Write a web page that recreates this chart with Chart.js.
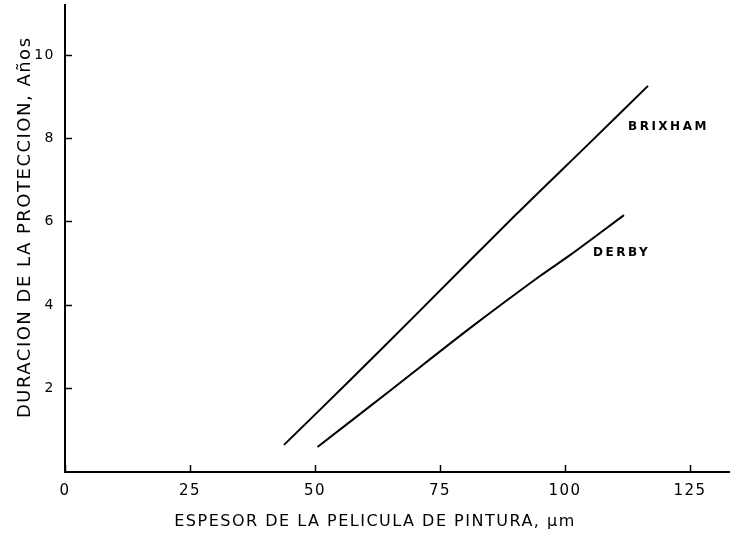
<!DOCTYPE html>
<html>
<head>
<meta charset="utf-8">
<script src="https://cdn.jsdelivr.net/npm/chart.js@4/dist/chart.umd.min.js"></script>
<style>
  html, body { margin: 0; padding: 0; background: #fff; }
  #wrap { width: 730px; height: 536px; }
</style>
</head>
<body>
<div id="wrap"><canvas id="graphique"></canvas></div>
<script>
// valeurs
var espesorBrixham = [43.8, 57, 70, 90, 105, 116.6];
var duracionBrixham = [0.65, 2.2, 3.75, 6.15, 7.9, 9.26];
var espesorDerby = [50.5, 65, 81, 95, 101, 111.8];
var duracionDerby = [0.6, 1.95, 3.45, 4.7, 5.2, 6.16];
var ticksX = [0, 25, 50, 75, 100, 125];
var ticksY = [2, 4, 6, 8, 10];
var etiquetas = [
  { texto: 'BRIXHAM', x: 112.6, y: 8.27 },
  { texto: 'DERBY', x: 105.6, y: 5.25 }
];
var titreX = 'ESPESOR DE LA PELICULA DE PINTURA, μm';
var titreY = 'DURACION DE LA PROTECCION, Años';

function points(xs, ys) {
  return xs.map(function(x, i) { return { x: x, y: ys[i] }; });
}

// espacement des lettres comme sur le scan, titres et noms des courbes
var marquesPlugin = {
  id: 'marques',
  beforeDraw: function(chart) {
    chart.ctx.letterSpacing = '1.5px';
  },
  afterDraw: function(chart) {
    var ctx = chart.ctx;
    var sx = chart.scales.x, sy = chart.scales.y;
    ctx.save();
    ctx.fillStyle = '#000';
    ctx.textBaseline = 'middle';

    // titres des axes
    ctx.letterSpacing = '1.5px';
    ctx.font = '16px "DejaVu Sans"';
    ctx.textAlign = 'center';
    ctx.fillText(titreX, sx.getPixelForValue(62), 522);
    ctx.save();
    ctx.font = '18px "DejaVu Sans"';
    ctx.translate(25, sy.getPixelForValue(5.87));
    ctx.rotate(-Math.PI / 2);
    ctx.fillText(titreY, 0, 0);
    ctx.restore();

    // noms des courbes
    ctx.textAlign = 'left';
    ctx.letterSpacing = '2.5px';
    ctx.font = 'bold 12px "DejaVu Sans"';
    etiquetas.forEach(function(e) {
      ctx.fillText(e.texto, sx.getPixelForValue(e.x), sy.getPixelForValue(e.y));
    });
    ctx.restore();
    ctx.letterSpacing = '0px';
  }
};

// graduations tournées vers l'intérieur (tickLength négatif)
var grille = {
  display: true,
  drawOnChartArea: false,
  drawTicks: true,
  tickLength: -7,
  tickWidth: 1.5,
  tickColor: '#000'
};

document.addEventListener('DOMContentLoaded', function() {
  var ctx = document.getElementById('graphique').getContext('2d');
  var chart = new Chart(ctx, {
    type: 'scatter',
    data: {
      datasets: [{
        label: 'BRIXHAM',
        data: points(espesorBrixham, duracionBrixham),
        showLine: true,
        borderColor: '#000',
        borderWidth: 2,
        pointRadius: 0,
        tension: 0.3
      }, {
        label: 'DERBY',
        data: points(espesorDerby, duracionDerby),
        showLine: true,
        borderColor: '#000',
        borderWidth: 2,
        pointRadius: 0,
        tension: 0.3
      }]
    },
    plugins: [marquesPlugin],
    options: {
      responsive: true,
      maintainAspectRatio: false,
      animation: false,
      layout: { padding: { top: 5, right: 0, left: 0, bottom: 0 } },
      plugins: {
        legend: { display: false },
        tooltip: { enabled: false }
      },
      scales: {
        x: {
          type: 'linear',
          min: 0,
          max: 133,
          afterBuildTicks: function(scale) {
            scale.ticks = ticksX.map(function(v) { return { value: v }; });
          },
          afterFit: function(scale) {
            scale.height = 64;
            scale.paddingLeft = 0;
            scale.paddingRight = 0;
          },
          grid: grille,
          border: { color: '#000', width: 2 },
          ticks: {
            color: '#000',
            padding: 17,
            maxRotation: 0,
            font: { family: 'DejaVu Sans', size: 15 }
          }
        },
        y: {
          type: 'linear',
          min: 0,
          max: 11.2,
          afterBuildTicks: function(scale) {
            scale.ticks = ticksY.map(function(v) { return { value: v }; });
          },
          afterFit: function(scale) {
            scale.width = 65;
            scale.paddingTop = 0;
            scale.paddingBottom = 0;
          },
          grid: grille,
          border: { color: '#000', width: 2 },
          ticks: {
            color: '#000',
            padding: 17,
            font: { family: 'DejaVu Sans', size: 14 }
          }
        }
      }
    }
  });
});
</script>
</body>
</html>
